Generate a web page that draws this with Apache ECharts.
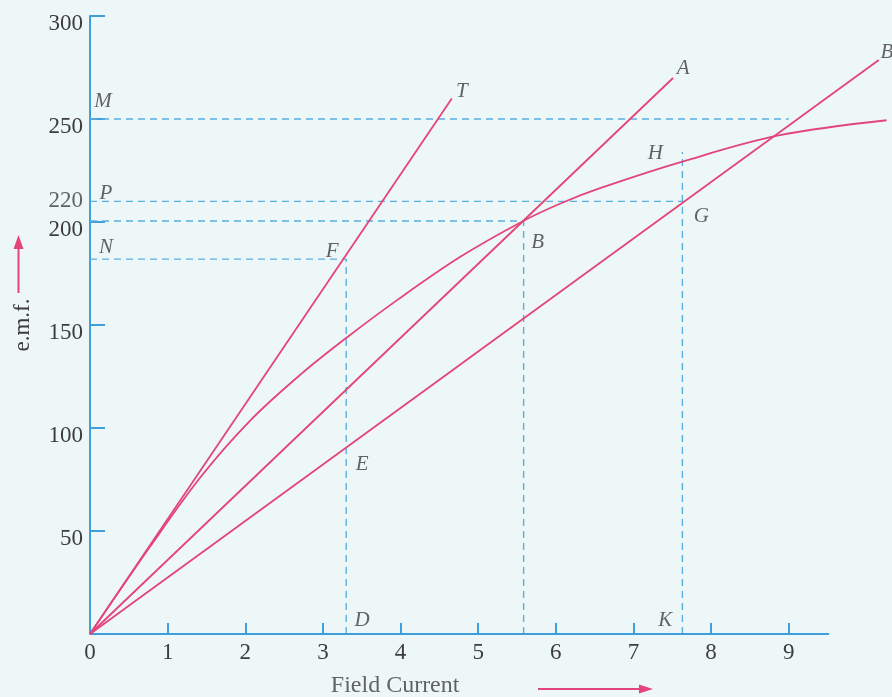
<!DOCTYPE html>
<html>
<head>
<meta charset="utf-8">
<script src="https://cdn.jsdelivr.net/npm/echarts@6/dist/echarts.min.js"></script>
<style>
html,body{margin:0;padding:0;background:#eef7f7;}
#chart{width:892px;height:697px;}
</style>
</head>
<body>
<div id="chart"></div>
<script>
// ---- data ----
const xTickValues = [0, 1, 2, 3, 4, 5, 6, 7, 8, 9];
const yTickValues = [50, 100, 150, 200, 250, 300];
const xAxisEnd = 9.52;          // where the drawn Field Current axis stops
const xTitle = 'Field Current';
const yTitle = 'e.m.f.';

// critical-resistance tangent line O–T
const lineT = [[0, 0], [4.66, 260.0]];
// field resistance line O–A
const lineA = [[0, 0], [7.51, 269.9]];
// field resistance line O–B
const lineB = [[0, 0], [10.16, 278.6]];
// open-circuit characteristic
const occCurve = [
  [0, 0], [0.77, 42.2], [1.42, 76.0], [2.06, 103.5], [2.71, 125.9],
  [3.30, 143.7], [3.96, 162.2], [4.77, 183.1], [5.58, 200.5], [6.06, 209.0],
  [6.57, 216.4], [7.63, 229.3], [8.87, 242.0], [10.26, 249.4]
];

// dashed construction lines
const guideM = [[0, 250], [9.0, 250]];
const guideP = [[0, 210], [7.63, 210]];
const guide200 = [[0, 200.5], [5.585, 200.5]];
const guideN = [[0, 182], [3.30, 182]];
const guideD = [[3.30, 0], [3.30, 182]];
const guideBv = [[5.585, 0], [5.585, 200.5]];
const guideK = [[7.63, 0], [7.63, 234]];

// level label written on the e.m.f. axis at the P line
const pLevelText = '220';
const pLevelValue = 210;

// lettered points
const pointLabels = [
  {id: 'T', text: 'T', value: [4.66, 260.0]},
  {id: 'A', text: 'A', value: [7.51, 269.9]},
  {id: 'Bend', text: 'B', value: [10.16, 278.6]},
  {id: 'H', text: 'H', value: [7.63, 229.3]},
  {id: 'G', text: 'G', value: [7.63, 210]},
  {id: 'B', text: 'B', value: [5.585, 200.5]},
  {id: 'F', text: 'F', value: [3.30, 182]},
  {id: 'E', text: 'E', value: [3.30, 90.5]},
  {id: 'D', text: 'D', value: [3.30, 0]},
  {id: 'K', text: 'K', value: [7.63, 0]},
  {id: 'M', text: 'M', value: [0, 250]},
  {id: 'P', text: 'P', value: [0, 210]},
  {id: 'N', text: 'N', value: [0, 182]}
];

// ---- styling ----
const SERIF = "'Liberation Serif','Times New Roman',serif";
const PINK = '#e3457b';
const AXIS_BLUE = '#3f9fd8';
const DASH_BLUE = '#5aaede';
const TEXT = '#3d3d3d';

const labelOffsets = {
  T: [10, -7], A: [10, -10], Bend: [8, -8], H: [-27, -8], G: [19, 15],
  B: [14, 22], F: [-14, -8], E: [16, 17], D: [16, -14], K: [-17, -14],
  M: [13, -18], P: [16, -8], N: [16, -12]
};

function curve(name, data, smooth) {
  return {
    name, type: 'line', data, symbol: 'none',
    smooth: smooth ? 0.35 : false,
    silent: true, lineStyle: {color: PINK, width: 1.8}, z: 5
  };
}
function guide(name, data) {
  return {
    name, type: 'line', data, symbol: 'none', silent: true,
    lineStyle: {color: DASH_BLUE, width: 1.4, type: [7, 5]}, z: 3
  };
}

const chart = echarts.init(document.getElementById('chart'), null, {renderer: 'canvas'});
chart.setOption({
  backgroundColor: '#eef7f7',
  animation: false,
  grid: {left: 90, right: 0, top: 16, bottom: 63, containLabel: false, outerBoundsMode: 'none'},
  xAxis: {
    type: 'value', min: 0, max: 10.33,
    axisLine: {show: false},
    axisTick: {show: true, inside: true, length: 11, customValues: xTickValues.slice(1),
      lineStyle: {color: AXIS_BLUE, width: 2}},
    axisLabel: {customValues: xTickValues, margin: 7, fontFamily: SERIF, fontSize: 23, color: TEXT},
    splitLine: {show: false}
  },
  yAxis: {
    type: 'value', min: 0, max: 300,
    axisLine: {show: true, lineStyle: {color: AXIS_BLUE, width: 2}},
    axisTick: {show: true, inside: true, length: 15, customValues: yTickValues,
      lineStyle: {color: AXIS_BLUE, width: 2}},
    axisLabel: {customValues: yTickValues, margin: 7, fontFamily: SERIF, fontSize: 23, color: TEXT,
      verticalAlign: 'top', lineHeight: 15},
    splitLine: {show: false},
    name: yTitle, nameLocation: 'middle', nameRotate: 90, nameGap: 56,
    nameTextStyle: {fontFamily: SERIF, fontSize: 23, color: TEXT}
  },
  series: [
    {
      name: 'xAxisLine', type: 'line', data: [[0, 0], [xAxisEnd, 0]], symbol: 'none', silent: true,
      lineStyle: {color: AXIS_BLUE, width: 2}, z: 4
    },
    guide('M', guideM), guide('P', guideP), guide('L200', guide200), guide('N', guideN),
    guide('D', guideD), guide('Bv', guideBv), guide('K', guideK),
    curve('OT', lineT, false),
    curve('OA', lineA, false),
    curve('OB', lineB, false),
    curve('OCC', occCurve, true),
    {
      name: 'points', type: 'scatter', symbolSize: 0, silent: true, z: 10,
      data: pointLabels.map(p => ({
        value: p.value,
        label: {
          show: true, formatter: p.text, position: 'inside',
          offset: labelOffsets[p.id], fontFamily: SERIF, fontStyle: 'italic',
          fontSize: 21, color: TEXT
        }
      }))
    },
    {
      name: 'pLevel', type: 'scatter', symbolSize: 0, silent: true, z: 10,
      data: [{
        value: [0, pLevelValue],
        label: {show: true, formatter: pLevelText, position: 'left', distance: 7,
          fontFamily: SERIF, fontSize: 23, color: TEXT}
      }]
    },
    {
      name: 'xTitle', type: 'scatter', symbolSize: 0, silent: true, z: 10,
      data: [{
        value: [3.93, 0],
        label: {show: true, formatter: xTitle, position: 'inside', offset: [0, 52],
          fontFamily: SERIF, fontSize: 24, color: TEXT}
      }]
    }
  ],
  graphic: [
    {type: 'line', shape: {x1: 18.5, y1: 293, x2: 18.5, y2: 246}, style: {stroke: PINK, lineWidth: 2}},
    {type: 'polygon', shape: {points: [[18.5, 235], [13.5, 249], [23.5, 249]]}, style: {fill: PINK}},
    {type: 'line', shape: {x1: 538, y1: 689, x2: 642, y2: 689}, style: {stroke: PINK, lineWidth: 2}},
    {type: 'polygon', shape: {points: [[653, 689], [639, 684.5], [639, 693.5]]}, style: {fill: PINK}}
  ]
});
</script>
</body>
</html>
